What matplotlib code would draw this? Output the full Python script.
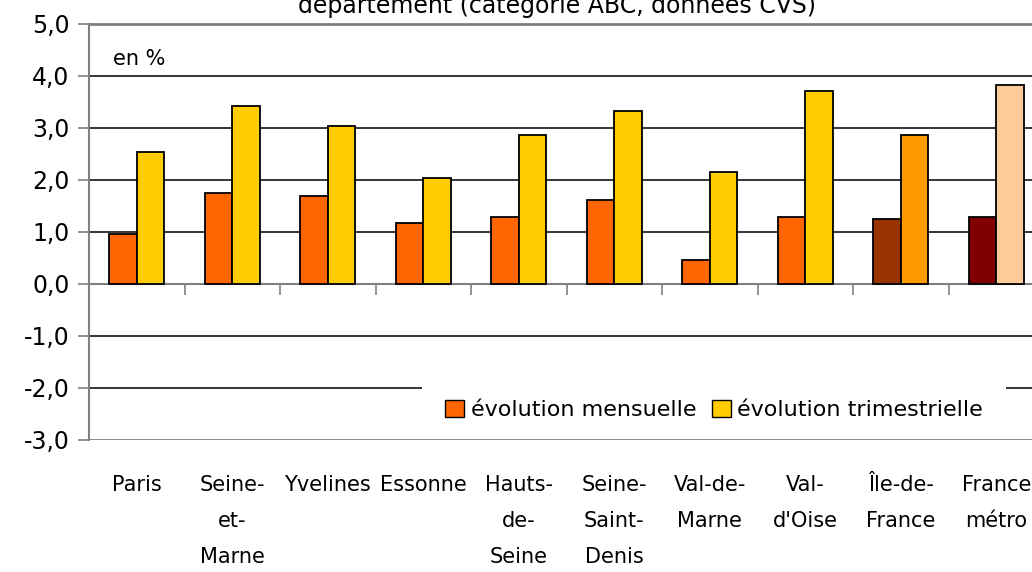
import numpy as np
import matplotlib.pyplot as plt
from matplotlib.patches import Patch

# Données (en %)
departements = ['Paris', 'Seine-\net-\nMarne', 'Yvelines', 'Essonne', 'Hauts-\nde-\nSeine',
                'Seine-\nSaint-\nDenis', 'Val-de-\nMarne', 'Val-\nd\'Oise', 'Île-de-\nFrance', 'France\nmétro']
evol_mensuelle = [0.96, 1.75, 1.70, 1.17, 1.29, 1.61, 0.46, 1.29, 1.25, 1.29]
evol_trimestrielle = [2.54, 3.42, 3.04, 2.04, 2.87, 3.33, 2.16, 3.71, 2.87, 3.83]
yticks = [5, 4, 3, 2, 1, 0, -1, -2, -3]

col_m = ['#FF6600'] * 8 + ['#993300', '#800000']
col_t = ['#FFCC00'] * 8 + ['#FF9900', '#FFCC99']

plt.rcParams['font.family'] = ['DejaVu Sans']

fig = plt.figure(figsize=(10.32, 5.72), dpi=100)
ax = fig.add_axes([89 / 1032, 1 - 440 / 572, 955 / 1032, 416 / 572])

x = np.arange(len(departements))
w = 0.29
ax.bar(x - w / 2, evol_mensuelle, w, color=col_m, edgecolor='black', linewidth=1.3, zorder=3)
ax.bar(x + w / 2, evol_trimestrielle, w, color=col_t, edgecolor='black', linewidth=1.3, zorder=3)

ax.set_xlim(-0.5, len(departements) - 0.5)
ax.set_ylim(-3, 5)

# grille
for v in yticks:
    if v in (5, 0, -3):
        continue
    ax.axhline(v, color='black', linewidth=1.1, zorder=1)
ax.axhline(-3, color='#808080', linewidth=2, zorder=2.5)

ax.spines['right'].set_visible(False)
ax.spines['top'].set_color('#808080')
ax.spines['top'].set_linewidth(2)
ax.spines['left'].set_color('#808080')
ax.spines['left'].set_linewidth(1.5)
ax.spines['bottom'].set_position(('data', 0))
ax.spines['bottom'].set_color('#808080')
ax.spines['bottom'].set_linewidth(1.5)

ax.set_yticks(yticks)
ax.set_yticklabels([f'{v:.1f}'.replace('.', ',') for v in yticks], fontsize=17)
ax.set_xticks(x[:-1] + 0.5)
ax.set_xticklabels([])
ax.tick_params(axis='y', direction='out', length=8, width=1.2, color='#808080', pad=6)
ax.tick_params(axis='x', direction='out', length=8, width=1.2, color='#808080')

# libellés des départements sous le graphique
for i, lab in enumerate(departements):
    ax.text(i, -3.68, lab, ha='center', va='top', fontsize=15, linespacing=2.0,
            clip_on=False)

ax.text(0.025, 0.94, 'en %', transform=ax.transAxes, fontsize=15, va='top')

fig.text(557 / 1032, 1 - 13 / 572, 'département (catégorie ABC, données CVS)',
         ha='center', va='baseline', fontsize=17)

handles = [Patch(facecolor='#FF6600', edgecolor='black', label='évolution mensuelle'),
           Patch(facecolor='#FFCC00', edgecolor='black', label='évolution trimestrielle')]
leg = ax.legend(handles=handles, loc='center', bbox_to_anchor=(714 / 1032, 1 - 410 / 572),
                bbox_transform=fig.transFigure,
                ncol=2, fontsize=16, frameon=True, fancybox=False, framealpha=1,
                handlelength=0.85, handleheight=0.85, handletextpad=0.3, columnspacing=0.7,
                borderpad=1.05, borderaxespad=0)
leg.get_frame().set_edgecolor('none')
leg.get_frame().set_facecolor('white')
leg.set_zorder(2)

fig.savefig('out.png', dpi=100)
